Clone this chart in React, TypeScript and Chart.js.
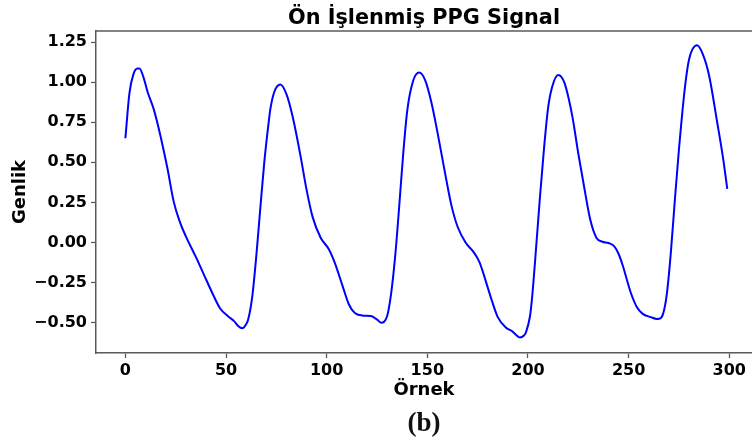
import React, { useEffect, useRef } from "react";
import { Chart, registerables } from "chart.js";

Chart.register(...registerables);

// Sample index (x) and amplitude (y)
const sampleIndex = [
  0, 2, 4, 6, 7, 9, 11, 14, 16, 19, 21, 24, 27, 30, 35, 39, 43, 47, 51, 54, 56, 58, 60, 61, 63, 65, 67, 69, 71, 72, 74, 77,
  80, 83, 87, 90, 93, 97, 101, 104, 108, 111, 114, 118, 122, 125, 127, 130, 132, 134, 136, 138, 140, 143, 146, 149, 152,
  155, 159, 162, 165, 169, 173, 176, 180, 182, 185, 189, 192, 194, 196, 198, 199, 201, 202, 204, 206, 208, 210, 212, 215,
  218, 222, 225, 228, 231, 234, 237, 240, 243, 245, 247, 251, 254, 257, 261, 264, 265, 267, 269, 271, 273, 275, 276, 278,
  280, 284, 287, 290, 294, 297, 299,
];
const amplitude = [
  0.65, 0.93, 1.05, 1.085, 1.085, 1.03, 0.94, 0.835, 0.74, 0.575, 0.455, 0.255, 0.13, 0.04, -0.09, -0.2, -0.31, -0.41,
  -0.46, -0.49, -0.52, -0.535, -0.51, -0.48, -0.34, -0.09, 0.21, 0.5, 0.73, 0.83, 0.94, 0.985, 0.925, 0.79, 0.54, 0.33,
  0.16, 0.03, -0.04, -0.125, -0.275, -0.385, -0.44, -0.456, -0.458, -0.48, -0.5, -0.46, -0.32, -0.09, 0.22, 0.55, 0.82,
  1.01, 1.06, 1.01, 0.875, 0.69, 0.42, 0.23, 0.1, 0.0, -0.06, -0.125, -0.28, -0.36, -0.465, -0.53, -0.552, -0.575,
  -0.593, -0.58, -0.56, -0.46, -0.35, -0.04, 0.29, 0.59, 0.84, 0.97, 1.045, 1.0, 0.79, 0.555, 0.34, 0.14, 0.03, 0.005,
  -0.003, -0.025, -0.07, -0.14, -0.31, -0.4, -0.445, -0.465, -0.477, -0.476, -0.45, -0.32, -0.06, 0.27, 0.58, 0.72,
  0.97, 1.14, 1.23, 1.17, 1.04, 0.75, 0.52, 0.335,
];

const xTickValues = [0, 50, 100, 150, 200, 250, 300];
const yTickValues = [-0.5, -0.25, 0, 0.25, 0.5, 0.75, 1.0, 1.25];

const titleText = "Ön İşlenmiş PPG Signal";
const xLabel = "Örnek";
const yLabel = "Genlik";
const caption = "(b)";

const SPINE = "#5a5a5a";
const FONT = "'DejaVu Sans', sans-serif";

export default function App() {
  const ref = useRef<HTMLCanvasElement | null>(null);

  useEffect(() => {
    document.body.style.margin = "0";
    const topSpine = {
      id: "topSpine",
      afterDatasetsDraw(chart: any) {
        const { ctx, chartArea } = chart;
        ctx.save();
        ctx.strokeStyle = SPINE;
        ctx.lineWidth = 1.5;
        ctx.beginPath();
        ctx.moveTo(chartArea.left, chartArea.top);
        ctx.lineTo(chartArea.right, chartArea.top);
        ctx.stroke();
        ctx.restore();
      },
    };

    const chart = new Chart(ref.current as HTMLCanvasElement, {
      type: "line",
      data: {
        datasets: [
          {
            data: sampleIndex.map((x, i) => ({ x, y: amplitude[i] })),
            borderColor: "#0000ff",
            borderWidth: 2,
            pointRadius: 0,
            cubicInterpolationMode: "monotone",
            fill: false,
          },
        ],
      },
      options: {
        responsive: false,
        animation: false,
        events: [],
        layout: { padding: 0 },
        plugins: {
          legend: { display: false },
          tooltip: { enabled: false },
          title: {
            display: true,
            text: titleText,
            fullSize: false,
            color: "#000",
            font: { family: FONT, size: 20.8, weight: "bold" },
            padding: { top: 6, bottom: 0.04 },
          },
          subtitle: {
            display: true,
            text: caption,
            position: "bottom",
            fullSize: false,
            color: "#111",
            font: { family: "'Liberation Serif', serif", size: 27, weight: "bold" },
            padding: { top: 0, bottom: 5 },
          },
        },
        scales: {
          x: {
            type: "linear",
            min: -14.6,
            max: 311.3,
            afterBuildTicks: (scale: any) => {
              scale.ticks = xTickValues.map((v) => ({ value: v }));
            },
            afterFit: (scale: any) => {
              scale.height = 54.6;
            },
            ticks: {
              autoSkip: false,
              maxRotation: 0,
              padding: 3,
              color: "#000",
              font: { family: FONT, size: 16, weight: "bold" },
              callback: (v: any) => String(v),
            },
            grid: {
              display: true,
              drawOnChartArea: false,
              drawTicks: true,
              tickLength: 5,
              tickColor: SPINE,
              tickWidth: 1.3,
            },
            border: { display: true, color: SPINE, width: 1.5 },
            title: {
              display: true,
              text: xLabel,
              color: "#000",
              font: { family: FONT, size: 18, weight: "bold" },
              padding: { top: 0, bottom: 6 },
            },
          },
          y: {
            type: "linear",
            min: -0.689,
            max: 1.319,
            afterBuildTicks: (scale: any) => {
              scale.ticks = yTickValues.map((v) => ({ value: v }));
            },
            afterFit: (scale: any) => {
              scale.width = 96;
            },
            ticks: {
              autoSkip: false,
              padding: 4,
              color: "#000",
              font: { family: FONT, size: 16, weight: "bold" },
              callback: (v: any) => Number(v).toFixed(2).replace("-", "\u2212"),
            },
            grid: {
              display: true,
              drawOnChartArea: false,
              drawTicks: true,
              tickLength: 5,
              tickColor: SPINE,
              tickWidth: 1.3,
            },
            border: { display: true, color: SPINE, width: 1.5 },
            title: {
              display: true,
              text: yLabel,
              color: "#000",
              font: { family: FONT, size: 18, weight: "bold" },
              padding: { top: 10, bottom: 0 },
            },
          },
        },
      },
      plugins: [topSpine],
    } as any);

    return () => chart.destroy();
  }, []);

  return (
    <div style={{ position: "absolute", left: 0, top: 0, width: 752, height: 445, background: "#fff", overflow: "hidden" }}>
      <canvas ref={ref} width={752} height={445} style={{ width: 752, height: 445, display: "block" }} />
    </div>
  );
}
